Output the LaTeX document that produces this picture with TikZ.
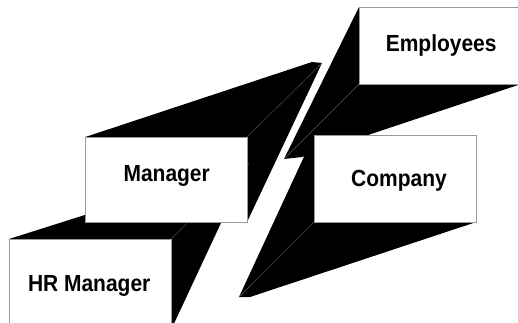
\documentclass[tikz,border=0pt]{standalone}
\usepackage{fontspec}
\newfontfamily\cardfont[FakeStretch=0.9]{Liberation Sans}
\usetikzlibrary{backgrounds}

\begin{document}
\begin{tikzpicture}[x=1pt, y=-1pt]
	\tikzstyle{card} = [draw=black!40, line width=0.8pt, fill=white, inner sep=0pt, outer sep=0pt]
	\tikzstyle{caption} = [inner sep=0pt, anchor=base, font=\cardfont\bfseries\fontsize{23.3}{28}\selectfont]
	\tikzstyle{slab} = [fill=black]
	\tikzstyle{ridge} = [draw=black!65, line width=0.4pt]

	\useasboundingbox (0,0) rectangle (518,322);

	% front faces
	\node [card, minimum width=162pt, minimum height=91pt] (hr) at (90,284.5) {};
	\node [card, minimum width=162pt, minimum height=85pt] (mgr) at (166,179.6) {};
	\node [card, minimum width=162pt, minimum height=77pt] (emp) at (440,45.5) {};
	\node [card, minimum width=162pt, minimum height=87pt] (comp) at (395,178.6) {};

	\node [caption] (hrtext) at (89.2,291.7) {HR Manager};
	\node [caption] (mgrtext) at (166.7,181.7) {Manager};
	\node [caption] (emptext) at (441.2,51.7) {Employees};
	\node [caption] (comptext) at (399,186.5) {Company};

	% far ends of the blocks
	\coordinate (hrvp) at (249,163);
	\coordinate (mgrback1) at (312,62);
	\coordinate (mgrback2) at (322,63);
	\coordinate (empback1) at (284,159);
	\coordinate (empback2) at (302,157);
	\coordinate (compback1) at (239,297);
	\coordinate (compback2) at (250,297);

	\begin{scope}[on background layer]
		% left pair, pointing up
		\fill [slab] (hr.north west) -- (hrvp) -- (hr.south east) -- (hr.south west) -- cycle;
		\fill [slab] (mgr.north west) -- (mgrback1) -- (mgrback2) -- (mgr.south east) -- (mgr.south west) -- cycle;
		% right pair, pointing down
		\fill [slab] (emp.north west) -- (empback1) -- (empback2) -- (emp.south east) -- (emp.north east) -- cycle;
		\fill [slab] (comp.north west) -- (compback1) -- (compback2) -- (comp.south east) -- (comp.north east) -- cycle;

		\path [ridge] (hr.north east) -- (hrvp);
		\path [ridge] (mgr.north east) -- (mgrback2);
		\path [ridge] (emp.south west) -- (empback1);
		\path [ridge] (comp.south west) -- (compback1);
	\end{scope}
\end{tikzpicture}
\end{document}
